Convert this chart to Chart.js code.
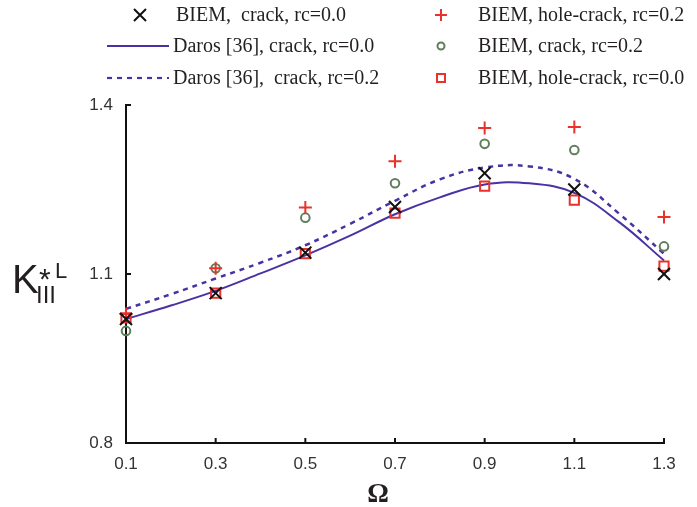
<!DOCTYPE html>
<html>
<head>
<meta charset="utf-8">
<script src="https://cdn.jsdelivr.net/npm/chart.js@4.4.0/dist/chart.umd.min.js"></script>
<style>
  html, body { margin: 0; padding: 0; background: #fff; }
  #wrap { width: 697px; height: 507px; }
</style>
</head>
<body>
<div id="wrap"><canvas id="kChart" width="697" height="507"></canvas></div>
<script>
// BIEM points
const omega = [0.1, 0.3, 0.5, 0.7, 0.9, 1.1, 1.3];
const biemCrack0 = [1.020, 1.066, 1.138, 1.219, 1.279, 1.250, 1.100];
const biemHoleCrack0 = [1.022, 1.066, 1.136, 1.208, 1.256, 1.231, 1.114];
const biemHoleCrack02 = [1.029, 1.110, 1.218, 1.300, 1.359, 1.361, 1.201];
const biemCrack02 = [0.999, 1.110, 1.200, 1.261, 1.331, 1.320, 1.149];

// Daros [36] curves
const omegaCurve = [0.1, 0.2, 0.3, 0.4, 0.5, 0.6, 0.7, 0.8, 0.9, 1.0, 1.1, 1.2, 1.3];
const darosCrack0 = [1.020, 1.044, 1.070, 1.101, 1.133, 1.168, 1.206, 1.236, 1.259, 1.261, 1.244, 1.192, 1.124];
const darosCrack02 = [1.038, 1.064, 1.092, 1.120, 1.151, 1.189, 1.230, 1.268, 1.289, 1.291, 1.269, 1.207, 1.136];

const xTicks = [0.1, 0.3, 0.5, 0.7, 0.9, 1.1, 1.3];
const yTicks = [0.8, 1.1, 1.4];

const purple = '#4b32a3';
const red = '#e8322b';
const green = '#5f7f5b';

const toXY = (xs, ys) => xs.map((x, i) => ({ x: x, y: ys[i] }));

const legendItems = [
  { col: 0, row: 0, kind: 'crossRot', color: '#111', text: 'BIEM,  crack, rc=0.0' },
  { col: 0, row: 1, kind: 'line', color: purple, text: 'Daros [36], crack, rc=0.0' },
  { col: 0, row: 2, kind: 'dash', color: purple, text: 'Daros [36],  crack, rc=0.2' },
  { col: 1, row: 0, kind: 'cross', color: red, text: 'BIEM, hole-crack, rc=0.2' },
  { col: 1, row: 1, kind: 'circle', color: green, text: 'BIEM, crack, rc=0.2' },
  { col: 1, row: 2, kind: 'rect', color: red, text: 'BIEM, hole-crack, rc=0.0' }
];

function marker(ctx, kind, x, y, color) {
  ctx.save();
  ctx.strokeStyle = color;
  ctx.lineWidth = 2;
  ctx.beginPath();
  if (kind === 'crossRot') {
    ctx.moveTo(x - 6, y - 6); ctx.lineTo(x + 6, y + 6);
    ctx.moveTo(x + 6, y - 6); ctx.lineTo(x - 6, y + 6);
  } else if (kind === 'cross') {
    ctx.moveTo(x - 6, y); ctx.lineTo(x + 6, y);
    ctx.moveTo(x, y - 6); ctx.lineTo(x, y + 6);
  } else if (kind === 'circle') {
    ctx.arc(x, y, 3.5, 0, Math.PI * 2);
  } else if (kind === 'rect') {
    ctx.rect(x - 4, y - 4, 8, 8);
  }
  ctx.stroke();
  ctx.restore();
}

const decor = {
  id: 'decor',
  afterDraw(chart) {
    const ctx = chart.ctx;
    const xs = chart.scales.x, ys = chart.scales.y;
    const area = chart.chartArea;
    ctx.save();
    // inward ticks
    ctx.strokeStyle = '#111';
    ctx.lineWidth = 2;
    xTicks.forEach(v => {
      const px = xs.getPixelForValue(v);
      ctx.beginPath(); ctx.moveTo(px, area.bottom); ctx.lineTo(px, area.bottom - 5); ctx.stroke();
    });
    yTicks.forEach(v => {
      const py = ys.getPixelForValue(v);
      ctx.beginPath(); ctx.moveTo(area.left, py); ctx.lineTo(area.left + 5, py); ctx.stroke();
    });

    // legend
    const colMarker = [140, 441];
    const colText = [176, 478];
    const rowY = [15, 46, 78];
    ctx.font = '20px "Liberation Serif", "Times New Roman", serif';
    ctx.fillStyle = '#231f20';
    ctx.textBaseline = 'middle';
    ctx.textAlign = 'left';
    legendItems.forEach(it => {
      const y = rowY[it.row];
      const mx = colMarker[it.col];
      if (it.kind === 'line' || it.kind === 'dash') {
        ctx.save();
        ctx.strokeStyle = it.color;
        ctx.lineWidth = 2.2;
        if (it.kind === 'dash') ctx.setLineDash([5, 5]);
        ctx.beginPath(); ctx.moveTo(107, y); ctx.lineTo(169, y); ctx.stroke();
        ctx.restore();
      } else {
        marker(ctx, it.kind, mx, y, it.color);
      }
      ctx.fillText(it.text, it.kind === 'line' || it.kind === 'dash' ? 173 : colText[it.col], y + 1);
    });

    // axis titles
    ctx.fillStyle = '#231f20';
    ctx.font = 'bold 27px "Liberation Serif", "Times New Roman", serif';
    ctx.textAlign = 'center';
    ctx.textBaseline = 'alphabetic';
    ctx.fillText('\u03A9', 378, 502);

    ctx.textAlign = 'left';
    ctx.font = '40px "Liberation Sans", Arial, sans-serif';
    ctx.fillText('K', 12, 293);
    ctx.font = '30px "Liberation Sans", Arial, sans-serif';
    ctx.fillText('*', 39, 289);
    ctx.font = '22px "Liberation Sans", Arial, sans-serif';
    ctx.fillText('L', 55, 278);
    ctx.font = '24px "Liberation Sans", Arial, sans-serif';
    ctx.fillText('III', 36, 303);
    ctx.restore();
  }
};

new Chart('kChart', {
  type: 'scatter',
  data: {
    datasets: [
      {
        label: 'BIEM, crack, rc=0.0',
        data: toXY(omega, biemCrack0),
        pointStyle: 'crossRot', pointRadius: 8.5, pointBorderWidth: 2,
        borderColor: '#111', backgroundColor: 'transparent', showLine: false, clip: false
      },
      {
        label: 'BIEM, hole-crack, rc=0.0',
        data: toXY(omega, biemHoleCrack0),
        pointStyle: 'rect', pointRadius: 6.5, pointBorderWidth: 2,
        borderColor: red, backgroundColor: 'transparent', showLine: false, clip: false
      },
      {
        label: 'BIEM, hole-crack, rc=0.2',
        data: toXY(omega, biemHoleCrack02),
        pointStyle: 'cross', pointRadius: 6.5, pointBorderWidth: 2,
        borderColor: red, backgroundColor: 'transparent', showLine: false, clip: false
      },
      {
        label: 'BIEM, crack, rc=0.2',
        data: toXY(omega, biemCrack02),
        pointStyle: 'circle', pointRadius: 4.3, pointBorderWidth: 2,
        borderColor: green, backgroundColor: 'transparent', showLine: false, clip: false
      },
      {
        label: 'Daros [36], crack, rc=0.0',
        data: toXY(omegaCurve, darosCrack0),
        showLine: true, pointRadius: 0, borderColor: purple, borderWidth: 2,
        tension: 0.4, fill: false, clip: false
      },
      {
        label: 'Daros [36], crack, rc=0.2',
        data: toXY(omegaCurve, darosCrack02),
        showLine: true, pointRadius: 0, borderColor: purple, borderWidth: 2.5,
        borderDash: [5, 5], tension: 0.4, fill: false, clip: false
      }
    ]
  },
  options: {
    responsive: false,
    animation: false,
    layout: { padding: { top: 105, right: 33, left: 0, bottom: 0 } },
    plugins: { legend: { display: false }, tooltip: { enabled: false } },
    scales: {
      x: {
        type: 'linear', min: 0.1, max: 1.3,
        afterBuildTicks: s => { s.ticks = xTicks.map(v => ({ value: v })); },
        afterFit: s => { s.height = 64; },
        grid: { display: false, drawTicks: false },
        border: { display: true, color: '#111', width: 2 },
        ticks: {
          padding: 11, color: '#333',
          font: { family: '"Liberation Sans", Arial, sans-serif', size: 17 },
          callback: v => v.toFixed(1)
        }
      },
      y: {
        type: 'linear', min: 0.8, max: 1.4,
        afterBuildTicks: s => { s.ticks = yTicks.map(v => ({ value: v })); },
        afterFit: s => { s.width = 126; },
        grid: { display: false, drawTicks: false },
        border: { display: true, color: '#111', width: 2 },
        ticks: {
          padding: 13, color: '#333',
          font: { family: '"Liberation Sans", Arial, sans-serif', size: 17 },
          callback: v => v.toFixed(1)
        }
      }
    }
  },
  plugins: [decor]
});
</script>
</body>
</html>
